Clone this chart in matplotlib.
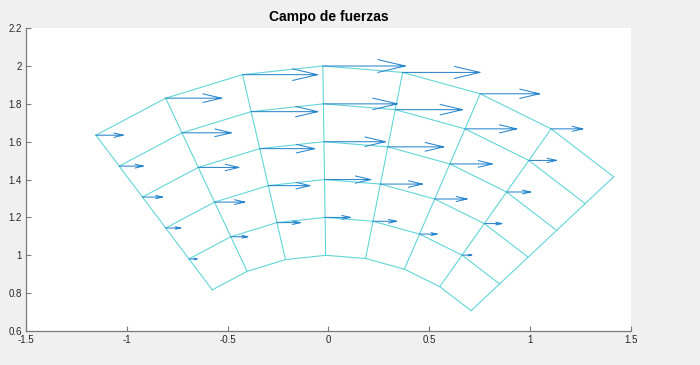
import numpy as np
import matplotlib
matplotlib.use('Agg')
import matplotlib.pyplot as plt

# mesh nodes (polar)
radii = [1.0, 1.2, 1.4, 1.6, 1.8, 2.0]
angles_deg = [45.0, 56.5, 67.9, 79.4, 90.8, 102.3, 113.8, 125.2]

# horizontal force at each node (rows = radii, cols = angles)
force_x = [
    [0.0, 0.000, 0.000, 0.000, 0.000, 0.000, 0.000, 0.000],
    [0.0, 0.048, 0.087, 0.116, 0.125, 0.116, 0.084, 0.040],
    [0.0, 0.087, 0.160, 0.208, 0.229, 0.206, 0.149, 0.074],
    [0.0, 0.119, 0.210, 0.277, 0.304, 0.272, 0.201, 0.099],
    [0.0, 0.137, 0.256, 0.333, 0.366, 0.330, 0.244, 0.119],
    [0.0, 0.157, 0.294, 0.383, 0.408, 0.371, 0.276, 0.135],
]
force_y = np.zeros((len(radii), len(angles_deg)))

xticks = [-1.5, -1, -0.5, 0, 0.5, 1, 1.5]
yticks = [0.6, 0.8, 1, 1.2, 1.4, 1.6, 1.8, 2, 2.2]

mesh_col = '#62d6d6'
arrow_col = '#2a86cc'
axis_col = '#7a7a7a'
text_col = '#262626'

plt.rcParams['font.family'] = ['Liberation Sans', 'DejaVu Sans']

R, T = np.meshgrid(np.array(radii), np.radians(angles_deg), indexing='ij')
X = R * np.cos(T)
Y = R * np.sin(T)
U = np.array(force_x)
V = force_y

fig = plt.figure(figsize=(7, 3.65), dpi=100, facecolor='#f0f0f0')
ax = fig.add_axes([0.0371, 0.0932, 0.8643, 0.8298])
ax.set_facecolor('white')

# mesh: arcs and radial lines
for i in range(X.shape[0]):
    ax.plot(X[i, :], Y[i, :], color=mesh_col, lw=0.8)
for j in range(X.shape[1]):
    ax.plot(X[:, j], Y[:, j], color=mesh_col, lw=0.8)

# matlab-like quiver: shaft + open head
alpha, beta = 0.33, 0.25
xs, ys = [], []
for i in range(X.shape[0]):
    for j in range(X.shape[1]):
        u, v = U[i, j], V[i, j]
        if u == 0 and v == 0:
            continue
        x0, y0 = X[i, j], Y[i, j]
        x1, y1 = x0 + u, y0 + v
        xs += [x0, x1, np.nan]
        ys += [y0, y1, np.nan]
        xs += [x1 - alpha * (u + beta * v), x1, x1 - alpha * (u - beta * v), np.nan]
        ys += [y1 - alpha * (v - beta * u), y1, y1 - alpha * (v + beta * u), np.nan]
ax.plot(xs, ys, color=arrow_col, lw=0.75, solid_joinstyle='miter')

ax.set_xlim(-1.5, 1.5)
ax.set_ylim(0.6, 2.2)
ax.set_xticks(xticks)
ax.set_yticks(yticks)
ax.set_xticklabels(['-1.5', '-1', '-0.5', '0', '0.5', '1', '1.5'])
ax.set_yticklabels(['0.6', '0.8', '1', '1.2', '1.4', '1.6', '1.8', '2', '2.2'])
ax.tick_params(direction='in', length=3.5, width=0.8, color=axis_col,
               labelsize=7, labelcolor=text_col, pad=3)
ax.spines['top'].set_visible(False)
ax.spines['right'].set_visible(False)
for s in ['left', 'bottom']:
    ax.spines[s].set_color(axis_col)
    ax.spines[s].set_linewidth(0.9)

ax.set_title('Campo de fuerzas', fontsize=10, fontweight='bold', color='black', pad=5)

fig.savefig('out.png', dpi=100, facecolor=fig.get_facecolor())
